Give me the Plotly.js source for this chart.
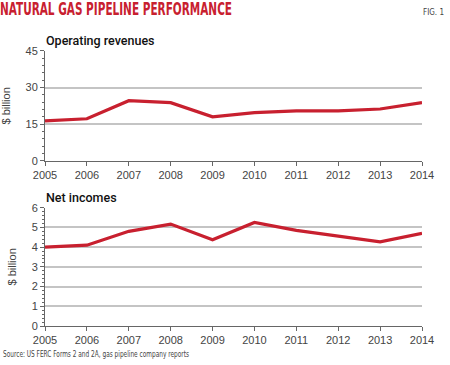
<!DOCTYPE html>
<html><head><meta charset="utf-8">
<script src="https://cdn.plot.ly/plotly-3.0.1.min.js"></script>
<style>html,body{margin:0;padding:0;background:#fff}#c{width:450px;height:365px}</style>
</head><body><div id="c"></div>
<script>
const years = [2005,2006,2007,2008,2009,2010,2011,2012,2013,2014];
const operatingRevenues = [16.3,17.2,24.6,23.8,18.0,19.7,20.4,20.4,21.2,23.8];
const netIncomes = [4.0,4.1,4.8,5.17,4.37,5.25,4.85,4.57,4.27,4.7];
const topTicks = [0,15,30,45];
const bottomTicks = [0,1,2,3,4,5,6];

const red = '#c8202f';
const tickFont = {family:'Liberation Sans, Arial, sans-serif', size:11, color:'#444'};
const lineStyle = {color:red, width:3.2};
const condensed = 'Liberation Sans Narrow, DejaVu Sans Condensed, sans-serif';

const xBase = {
  range:[2005,2014], tickvals:years, ticktext:years.map(String),
  showgrid:false, showline:true, linecolor:'#666', linewidth:1,
  ticks:'outside', ticklen:4, tickcolor:'#666', tickfont:tickFont, zeroline:false, fixedrange:true
};
const yBase = {
  showline:true, linecolor:'#666', linewidth:1, ticks:'outside', ticklen:4, tickcolor:'#666',
  tickfont:tickFont, showgrid:true, gridcolor:'#c4c4c4', gridwidth:2, zeroline:false,
  title:{text:'$ billion', font:{family:'Liberation Sans, Arial, sans-serif', size:11, color:'#444'}, standoff:12}
};

const data = [
  {x:years, y:operatingRevenues, xaxis:'x', yaxis:'y', mode:'lines', line:lineStyle, hoverinfo:'none'},
  {x:years, y:netIncomes, xaxis:'x2', yaxis:'y2', mode:'lines', line:lineStyle, hoverinfo:'none'}
];

const layout = {
  width:450, height:365, margin:{l:45, r:28, t:0, b:0},
  paper_bgcolor:'#fff', plot_bgcolor:'#fff', showlegend:false,
  xaxis: Object.assign({}, xBase, {anchor:'y'}),
  xaxis2: Object.assign({}, xBase, {anchor:'y2'}),
  yaxis: Object.assign({}, yBase, {domain:[0.5597,0.8603], range:[0,45], tickvals:topTicks, anchor:'x',
    minor:{dtick:3, ticks:'outside', ticklen:2, tickcolor:'#666', showgrid:false}}),
  yaxis2: Object.assign({}, yBase, {domain:[0.1068,0.4310], range:[0,6], tickvals:bottomTicks, anchor:'x2',
    minor:{dtick:0.2, ticks:'outside', ticklen:2, tickcolor:'#666', showgrid:false}}),
  annotations:[
    {text:'<b>NATURAL GAS PIPELINE PERFORMANCE</b>', xref:'paper', yref:'paper', x:0, y:1, xshift:-47, yshift:3,
     xanchor:'left', yanchor:'top', align:'left', showarrow:false,
     font:{family:condensed, size:17, color:red}},
    {text:'FIG. 1', xref:'paper', yref:'paper', x:1, y:1, xshift:24, yshift:-6,
     xanchor:'right', yanchor:'top', align:'right', showarrow:false,
     font:{family:condensed, size:8, color:'#444'}},
    {text:'Operating revenues', xref:'paper', yref:'paper', x:0, y:0.8603, xshift:-1, yshift:1,
     xanchor:'left', yanchor:'bottom', align:'left', showarrow:false,
     font:{family:'Roboto, sans-serif', size:12.5, color:'#111', weight:500}},
    {text:'Net incomes', xref:'paper', yref:'paper', x:0, y:0.4310, xshift:-1, yshift:1,
     xanchor:'left', yanchor:'bottom', align:'left', showarrow:false,
     font:{family:'Roboto, sans-serif', size:12.5, color:'#111', weight:500}},
    {text:'Source: US FERC Forms 2 and 2A, gas pipeline company reports', xref:'paper', yref:'paper', x:0, y:0,
     xshift:-44, yshift:4, xanchor:'left', yanchor:'bottom', align:'left', showarrow:false,
     font:{family:condensed, size:8.5, color:'#444'}}
  ]
};
Plotly.newPlot('c', data, layout, {staticPlot:true, displayModeBar:false}).then(function(){
  const widths = {'NATURAL GAS PIPELINE PERFORMANCE':232, 'Source: US FERC Forms 2 and 2A, gas pipeline company reports':186};
  document.querySelectorAll('text.annotation-text').forEach(function(t){
    const w = widths[t.textContent];
    if (w) { t.setAttribute('textLength', w); t.setAttribute('lengthAdjust', 'spacingAndGlyphs'); }
  });
});
</script></body></html>
